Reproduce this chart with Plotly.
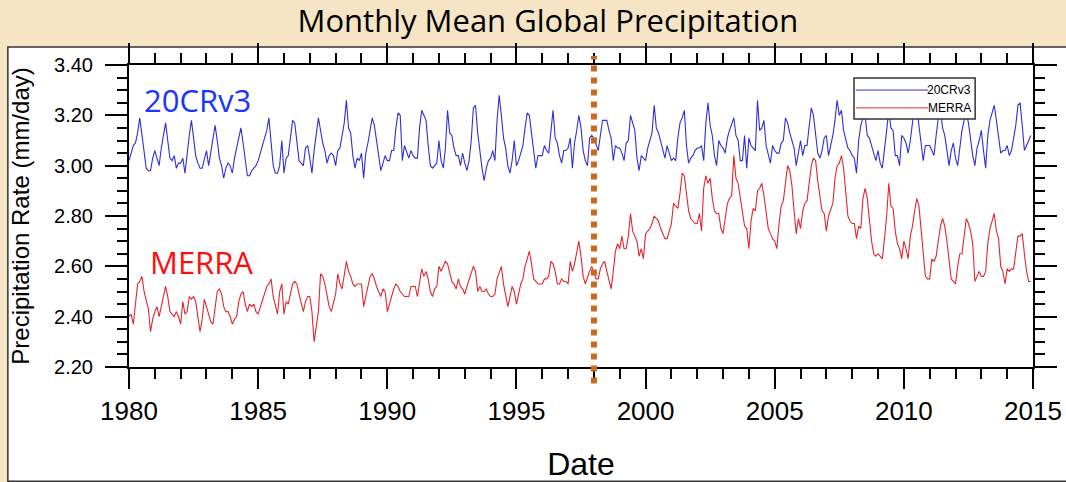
import plotly.graph_objects as go

years = list(range(1980, 2015))
months = list(range(12))

cr20v3 = [
    [3.02, 3.05, 3.08, 3.09, 3.13, 3.19, 3.12, 3.05, 2.99, 2.98, 2.98, 3.03],  # 1980
    [3.06, 3.03, 3.00, 3.07, 3.12, 3.17, 3.10, 3.03, 3.02, 3.04, 2.99, 3.01],  # 1981
    [3.01, 3.03, 2.97, 3.06, 3.12, 3.18, 3.11, 3.04, 3.01, 2.99, 2.99, 3.03],  # 1982
    [3.06, 3.00, 3.06, 3.12, 3.16, 3.10, 3.03, 3.00, 2.95, 2.99, 3.01, 3.00],  # 1983
    [2.97, 3.03, 3.07, 3.12, 3.15, 3.09, 3.02, 2.96, 2.96, 2.98, 2.99, 3.00],  # 1984
    [3.02, 3.05, 3.09, 3.12, 3.14, 3.19, 3.10, 3.00, 2.97, 2.97, 3.00, 3.10],  # 1985
    [2.97, 3.03, 3.04, 3.10, 3.18, 3.17, 3.10, 3.02, 3.01, 3.00, 3.07, 3.08],  # 1986
    [3.03, 2.97, 3.06, 3.12, 3.19, 3.14, 3.09, 3.06, 3.01, 3.04, 3.05, 3.04],  # 1987
    [3.00, 3.06, 3.07, 3.12, 3.17, 3.26, 3.15, 3.13, 3.04, 2.99, 3.03, 3.02],  # 1988
    [3.05, 2.95, 3.05, 3.09, 3.15, 3.19, 3.16, 3.09, 3.04, 2.98, 3.01, 3.04],  # 1989
    [3.02, 3.02, 3.06, 3.06, 3.15, 3.21, 3.20, 3.02, 3.08, 3.05, 3.03, 3.06],  # 1990
    [3.04, 3.03, 3.03, 3.15, 3.22, 3.20, 3.18, 3.08, 3.00, 2.99, 3.00, 3.01],  # 1991
    [3.10, 3.02, 2.99, 3.07, 3.22, 3.13, 3.12, 3.07, 3.04, 3.04, 3.00, 3.05],  # 1992
    [3.01, 2.98, 3.02, 3.10, 3.23, 3.24, 3.13, 3.05, 2.99, 2.94, 2.99, 3.02],  # 1993
    [3.03, 3.06, 3.02, 3.18, 3.28, 3.20, 3.11, 3.07, 3.00, 2.97, 3.02, 3.10],  # 1994
    [3.00, 3.02, 3.05, 3.08, 3.15, 3.21, 3.20, 3.12, 3.06, 2.99, 3.04, 3.04],  # 1995
    [3.04, 3.08, 3.06, 3.05, 3.14, 3.22, 3.11, 3.09, 3.04, 3.01, 3.06, 3.06],  # 1996
    [3.07, 3.11, 2.99, 3.09, 3.14, 3.20, 3.15, 3.06, 3.02, 3.00, 3.11, 3.12],  # 1997
    [3.11, 3.08, 3.06, 3.12, 3.18, 3.18, 3.18, 3.14, 3.11, 3.02, 3.08, 3.07],  # 1998
    [3.07, 3.05, 3.02, 3.09, 3.10, 3.20, 3.17, 3.14, 3.03, 2.98, 3.04, 3.03],  # 1999
    [3.02, 3.07, 3.10, 3.13, 3.24, 3.15, 3.13, 3.10, 3.06, 3.03, 3.08, 3.05],  # 2000
    [3.02, 3.03, 3.02, 3.11, 3.17, 3.19, 3.22, 3.08, 3.01, 3.03, 3.04, 3.06],  # 2001
    [3.07, 3.07, 3.08, 3.02, 3.17, 3.25, 3.16, 3.12, 3.04, 3.00, 3.10, 3.08],  # 2002
    [3.07, 3.05, 3.11, 3.14, 3.17, 3.19, 3.12, 3.10, 3.02, 3.02, 3.12, 2.99],  # 2003
    [3.11, 3.08, 3.07, 3.06, 3.26, 3.14, 3.15, 3.18, 3.08, 3.04, 3.01, 3.08],  # 2004
    [3.06, 3.05, 3.05, 3.09, 3.10, 3.19, 3.17, 3.13, 3.10, 3.07, 3.00, 3.05],  # 2005
    [3.10, 3.04, 3.08, 3.08, 3.15, 3.23, 3.20, 3.12, 3.05, 3.03, 3.06, 3.11],  # 2006
    [3.12, 3.04, 3.08, 3.12, 3.18, 3.26, 3.20, 3.22, 3.14, 3.10, 3.07, 3.06],  # 2007
    [3.04, 3.03, 2.97, 3.10, 3.16, 3.19, 3.20, 3.12, 3.11, 3.08, 3.05, 3.02],  # 2008
    [3.06, 3.01, 2.99, 3.08, 3.14, 3.22, 3.15, 3.14, 3.04, 3.04, 3.00, 3.12],  # 2009
    [3.11, 3.09, 3.05, 3.10, 3.16, 3.24, 3.23, 3.15, 3.09, 3.02, 3.08, 3.08],  # 2010
    [3.08, 3.06, 3.04, 3.12, 3.19, 3.22, 3.15, 3.12, 3.06, 3.00, 3.06, 3.09],  # 2011
    [3.03, 3.00, 3.07, 3.14, 3.18, 3.21, 3.17, 3.10, 3.04, 3.00, 3.07, 3.10],  # 2012
    [3.14, 3.06, 2.99, 3.12, 3.18, 3.21, 3.24, 3.18, 3.12, 3.05, 3.06, 3.06],  # 2013
    [3.08, 3.04, 3.06, 3.11, 3.16, 3.24, 3.25, 3.16, 3.06, 3.08, 3.10, 3.12],  # 2014
]

merra = [
    [2.40, 2.41, 2.37, 2.45, 2.53, 2.54, 2.56, 2.50, 2.46, 2.43, 2.34, 2.39],  # 1980
    [2.42, 2.44, 2.40, 2.44, 2.47, 2.52, 2.48, 2.42, 2.41, 2.40, 2.42, 2.40],  # 1981
    [2.37, 2.46, 2.41, 2.42, 2.48, 2.47, 2.48, 2.46, 2.40, 2.34, 2.39, 2.47],  # 1982
    [2.44, 2.41, 2.38, 2.37, 2.44, 2.50, 2.51, 2.49, 2.44, 2.42, 2.42, 2.40],  # 1983
    [2.37, 2.39, 2.40, 2.46, 2.49, 2.50, 2.45, 2.42, 2.45, 2.44, 2.45, 2.42],  # 1984
    [2.41, 2.44, 2.46, 2.50, 2.52, 2.53, 2.55, 2.48, 2.44, 2.41, 2.50, 2.53],  # 1985
    [2.41, 2.46, 2.45, 2.49, 2.53, 2.54, 2.53, 2.49, 2.45, 2.42, 2.46, 2.48],  # 1986
    [2.48, 2.42, 2.30, 2.36, 2.42, 2.57, 2.56, 2.53, 2.48, 2.44, 2.42, 2.46],  # 1987
    [2.49, 2.57, 2.53, 2.51, 2.56, 2.62, 2.58, 2.56, 2.53, 2.52, 2.53, 2.53],  # 1988
    [2.53, 2.44, 2.48, 2.52, 2.56, 2.57, 2.55, 2.52, 2.50, 2.48, 2.51, 2.50],  # 1989
    [2.42, 2.45, 2.49, 2.51, 2.53, 2.52, 2.50, 2.49, 2.48, 2.48, 2.48, 2.52],  # 1990
    [2.52, 2.52, 2.48, 2.54, 2.59, 2.56, 2.58, 2.55, 2.50, 2.48, 2.51, 2.52],  # 1991
    [2.60, 2.58, 2.60, 2.62, 2.61, 2.57, 2.54, 2.53, 2.51, 2.55, 2.52, 2.51],  # 1992
    [2.49, 2.52, 2.55, 2.58, 2.60, 2.58, 2.50, 2.52, 2.50, 2.50, 2.51, 2.49],  # 1993
    [2.48, 2.48, 2.49, 2.55, 2.58, 2.60, 2.53, 2.48, 2.44, 2.48, 2.52, 2.50],  # 1994
    [2.45, 2.49, 2.53, 2.55, 2.60, 2.63, 2.66, 2.61, 2.55, 2.54, 2.53, 2.53],  # 1995
    [2.53, 2.55, 2.55, 2.56, 2.62, 2.61, 2.58, 2.53, 2.53, 2.55, 2.54, 2.54],  # 1996
    [2.53, 2.62, 2.58, 2.61, 2.65, 2.70, 2.64, 2.56, 2.53, 2.56, 2.58, 2.60],  # 1997
    [2.57, 2.55, 2.55, 2.59, 2.61, 2.62, 2.58, 2.55, 2.51, 2.58, 2.66, 2.69],  # 1998
    [2.67, 2.72, 2.67, 2.67, 2.72, 2.81, 2.74, 2.72, 2.70, 2.64, 2.67, 2.63],  # 1999
    [2.73, 2.74, 2.75, 2.77, 2.80, 2.79, 2.78, 2.75, 2.73, 2.71, 2.71, 2.74],  # 2000
    [2.77, 2.85, 2.84, 2.83, 2.89, 2.97, 2.96, 2.88, 2.82, 2.79, 2.78, 2.77],  # 2001
    [2.77, 2.81, 2.74, 2.91, 2.96, 2.93, 2.95, 2.87, 2.82, 2.81, 2.81, 2.75],  # 2002
    [2.73, 2.79, 2.85, 2.87, 2.88, 3.04, 2.95, 2.93, 2.87, 2.82, 2.76, 2.75],  # 2003
    [2.67, 2.78, 2.83, 2.82, 2.90, 2.91, 2.93, 2.88, 2.81, 2.75, 2.73, 2.71],  # 2004
    [2.70, 2.67, 2.77, 2.84, 2.86, 2.93, 3.00, 2.98, 2.92, 2.82, 2.73, 2.79],  # 2005
    [2.75, 2.82, 2.85, 2.86, 2.93, 3.00, 3.03, 3.02, 2.94, 2.87, 2.82, 2.81],  # 2006
    [2.74, 2.80, 2.83, 2.85, 2.95, 3.00, 3.01, 3.04, 2.99, 2.89, 2.80, 2.78],  # 2007
    [2.77, 2.77, 2.71, 2.76, 2.75, 2.87, 2.91, 2.87, 2.77, 2.70, 2.65, 2.64],  # 2008
    [2.65, 2.64, 2.63, 2.71, 2.80, 2.93, 2.84, 2.83, 2.74, 2.69, 2.67, 2.63],  # 2009
    [2.70, 2.67, 2.63, 2.72, 2.76, 2.82, 2.87, 2.84, 2.75, 2.63, 2.56, 2.55],  # 2010
    [2.55, 2.63, 2.62, 2.64, 2.70, 2.76, 2.79, 2.76, 2.70, 2.61, 2.55, 2.54],  # 2011
    [2.53, 2.60, 2.65, 2.65, 2.72, 2.79, 2.77, 2.74, 2.69, 2.54, 2.56, 2.58],  # 2012
    [2.56, 2.56, 2.58, 2.69, 2.75, 2.78, 2.81, 2.74, 2.71, 2.60, 2.58, 2.53],  # 2013
    [2.59, 2.58, 2.59, 2.59, 2.66, 2.72, 2.72, 2.73, 2.65, 2.58, 2.54, 2.54],  # 2014
]

x_ticks = [1980, 1985, 1990, 1995, 2000, 2005, 2010, 2015]
y_ticks = [2.20, 2.40, 2.60, 2.80, 3.00, 3.20, 3.40]
marker_year = 1998

t = [y + m / 12 for y in years for m in months]
blue_vals = [v for row in cr20v3 for v in row]
red_vals = [v for row in merra for v in row]

fig = go.Figure()
fig.add_trace(go.Scatter(x=t, y=blue_vals, mode="lines", name="20CRv3",
                         line=dict(color="#2f2fd8", width=1.1), showlegend=False))
fig.add_trace(go.Scatter(x=t, y=red_vals, mode="lines", name="MERRA",
                         line=dict(color="#e3262e", width=1.1), showlegend=False))

shapes = []
# white figure frame
shapes.append(dict(type="rect", xref="paper", yref="paper", x0=-0.134, x1=1.2,
                   y0=-0.378, y1=1.06, layer="below", fillcolor="white",
                   line=dict(color="#333333", width=1.5)))
# 1998 dotted marker
shapes.append(dict(type="line", xref="x", yref="paper", x0=marker_year, x1=marker_year,
                   y0=-0.055, y1=1.03, line=dict(color="#c8691e", width=6, dash="dot")))
# legend box
shapes.append(dict(type="rect", xref="paper", yref="paper", x0=0.802, x1=0.936,
                   y0=0.821, y1=0.957, fillcolor="white", line=dict(color="#333333", width=1.5)))
shapes.append(dict(type="line", xref="paper", yref="paper", x0=0.804, x1=0.884,
                   y0=0.917, y1=0.917, line=dict(color="#2f2fd8", width=1)))
shapes.append(dict(type="line", xref="paper", yref="paper", x0=0.804, x1=0.884,
                   y0=0.858, y1=0.858, line=dict(color="#e3262e", width=1)))

annotations = [
    dict(text="20CRv3", xref="paper", yref="paper", x=0.934, y=0.917, xanchor="right",
         yanchor="middle", showarrow=False,
         font=dict(family="Liberation Sans", size=12, color="black")),
    dict(text="MERRA", xref="paper", yref="paper", x=0.934, y=0.858, xanchor="right",
         yanchor="middle", showarrow=False,
         font=dict(family="Liberation Sans", size=12, color="black")),
    dict(text="20CRv3", xref="paper", yref="paper", x=0.014, y=0.884, xanchor="left",
         yanchor="middle", showarrow=False,
         font=dict(family="Open Sans", size=31, color="#1a35ff")),
    dict(text="MERRA", xref="paper", yref="paper", x=0.021, y=0.348, xanchor="left",
         yanchor="middle", showarrow=False,
         font=dict(family="Open Sans", size=31, color="#ff0d0d")),
]

fig.update_layout(
    width=1066, height=482, autosize=False,
    margin=dict(l=129, r=33, t=65, b=115, pad=0),
    paper_bgcolor="#f5e5c5", plot_bgcolor="white",
    title=dict(text="Monthly Mean Global Precipitation", x=0.514, xref="container",
               xanchor="center", y=0.957, yanchor="middle",
               font=dict(family="Open Sans", size=31, color="black")),
    shapes=shapes, annotations=annotations,
    xaxis=dict(range=[1980, 2015], tickmode="array", tickvals=x_ticks,
               ticktext=[str(v) for v in x_ticks], automargin=False,
               ticks="outside", ticklen=20, tickwidth=2, tickcolor="black",
               showline=True, linecolor="black", linewidth=2, mirror="ticks",
               showgrid=False, zeroline=False,
               tickfont=dict(family="Liberation Sans", size=26, color="black"),
               minor=dict(ticks="outside", ticklen=10, tickwidth=1.5, tickcolor="black",
                          dtick=1, tick0=1980, showgrid=False),
               title=dict(text="Date", standoff=27,
                          font=dict(family="Liberation Sans", size=32, color="black"))),
    yaxis=dict(range=[2.2, 3.4], tickmode="array", tickvals=y_ticks,
               ticktext=[f"{v:.2f}" for v in y_ticks], automargin=False,
               ticks="outside", ticklen=22, tickwidth=2, tickcolor="black",
               showline=True, linecolor="black", linewidth=2, mirror="ticks",
               showgrid=False, zeroline=False, ticklabelstandoff=8,
               tickfont=dict(family="Liberation Sans", size=20, color="black"),
               minor=dict(ticks="outside", ticklen=10, tickwidth=1.5, tickcolor="black",
                          dtick=0.05, tick0=2.2, showgrid=False),
               title=dict(text="Precipitation Rate (mm/day)", standoff=18,
                          font=dict(family="Liberation Sans", size=24, color="black"))),
)

fig.write_html("out.html", config={"displayModeBar": False},
               post_script="document.body.style.margin='0';document.body.style.background='#f5e5c5';")
